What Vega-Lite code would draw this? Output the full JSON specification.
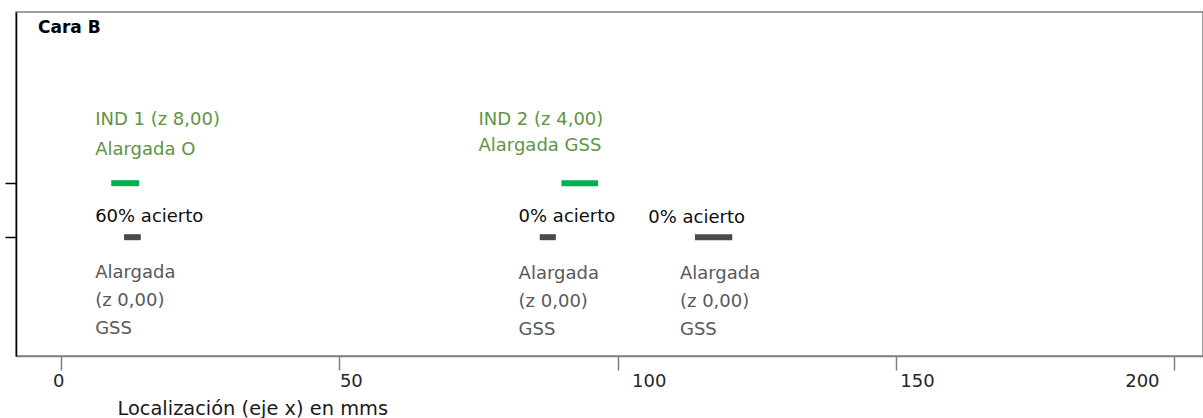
{
  "$schema": "https://vega.github.io/schema/vega-lite/v6.json",
  "width": 1187,
  "height": 344,
  "autosize": {"type": "none"},
  "padding": {"left": 16, "top": 12, "right": 0, "bottom": 62},
  "background": "white",
  "config": {"view": {"stroke": "#808080", "strokeWidth": 1.5}, "font": "DejaVu Sans"},
  "title": {"text": "Cara B", "anchor": "start", "frame": "group", "font": "DejaVu Sans", "fontSize": 17, "fontWeight": "bold", "color": "#000000", "baseline": "alphabetic", "offset": -21, "dx": 22, "dy": 17},
  "datasets": {
    "barras": [
      {"x": 9.0, "xfin": 14.0, "y": 2, "serie": "IND"},
      {"x": 89.9, "xfin": 96.5, "y": 2, "serie": "IND"},
      {"x": 11.3, "xfin": 14.3, "y": 1, "serie": "GSS"},
      {"x": 86.0, "xfin": 88.9, "y": 1, "serie": "GSS"},
      {"x": 113.9, "xfin": 120.6, "y": 1, "serie": "GSS"}
    ],
    "verdes": [
      {"x": 6.1, "y": 3.08, "texto": "IND 1 (z 8,00)"},
      {"x": 6.1, "y": 2.53, "texto": "Alargada O"},
      {"x": 75.0, "y": 3.08, "texto": "IND 2 (z 4,00)"},
      {"x": 75.0, "y": 2.6, "texto": "Alargada GSS"}
    ],
    "negros": [
      {"x": 6.1, "y": 1.28, "texto": "60% acierto"},
      {"x": 82.2, "y": 1.28, "texto": "0% acierto"},
      {"x": 105.5, "y": 1.26, "texto": "0% acierto"}
    ],
    "grises": [
      {"x": 6.1, "y": 0.24, "texto": "Alargada\n(z 0,00)\nGSS"},
      {"x": 82.2, "y": 0.22, "texto": "Alargada\n(z 0,00)\nGSS"},
      {"x": 111.2, "y": 0.22, "texto": "Alargada\n(z 0,00)\nGSS"}
    ]
  },
  "encoding": {
    "x": {
      "field": "x",
      "type": "quantitative",
      "scale": {"domain": [-8.12, 205.2], "nice": false, "zero": false},
      "axis": {
        "values": [0, 50, 100, 150, 200],
        "title": "Localización (eje x) en mms",
        "grid": false,
        "tickSize": 14,
        "tickColor": "#808080",
        "tickWidth": 1.5,
        "domainColor": "#808080",
        "domainWidth": 1.5,
        "labelFont": "DejaVu Sans",
        "labelFontSize": 18,
        "labelColor": "#262626",
        "labelBaseline": "top",
        "labelPadding": 2,
        "labelFlush": false,
        "labelOverlap": false,
        "labelAlign": {"condition": [{"test": "datum.value === 0", "value": "center"}, {"test": "datum.value === 200", "value": "right"}], "value": "left"},
        "labelOffset": {"condition": [{"test": "datum.value === 0", "value": -3}, {"test": "datum.value === 100", "value": 14}, {"test": "datum.value === 150", "value": 4}, {"test": "datum.value === 200", "value": -15}], "value": 0},
        "titleFont": "DejaVu Sans",
        "titleFontSize": 19.4,
        "titleFontWeight": "normal",
        "titleColor": "#1a1a1a",
        "titleAnchor": "start",
        "titleAlign": "left",
        "titleBaseline": "alphabetic",
        "titleX": 101,
        "titleY": 58
      }
    },
    "y": {
      "field": "y",
      "type": "quantitative",
      "scale": {"domain": [-1.2, 5.17], "nice": false, "zero": false},
      "axis": {"values": [1, 2], "labels": false, "tickSize": 11, "tickColor": "#000000", "tickWidth": 1.5, "domainColor": "#000000", "domainWidth": 1.5, "title": null, "grid": false}
    }
  },
  "layer": [
    {
      "data": {"name": "barras"},
      "mark": {"type": "rule", "strokeWidth": 6, "strokeCap": "butt"},
      "encoding": {
        "x2": {"field": "xfin"},
        "color": {"field": "serie", "type": "nominal", "scale": {"domain": ["IND", "GSS"], "range": ["#00b050", "#4a4a4a"]}, "legend": null}
      }
    },
    {
      "data": {"name": "verdes"},
      "mark": {"type": "text", "align": "left", "baseline": "alphabetic", "font": "DejaVu Sans", "fontSize": 18, "color": "#609444"},
      "encoding": {"text": {"field": "texto"}}
    },
    {
      "data": {"name": "negros"},
      "mark": {"type": "text", "align": "left", "baseline": "alphabetic", "font": "DejaVu Sans", "fontSize": 18, "color": "#0d0d0d"},
      "encoding": {"text": {"field": "texto"}}
    },
    {
      "data": {"name": "grises"},
      "mark": {"type": "text", "align": "left", "baseline": "alphabetic", "font": "DejaVu Sans", "fontSize": 18, "color": "#595959", "lineBreak": "\n", "lineHeight": 27.8},
      "encoding": {"text": {"field": "texto"}}
    }
  ]
}
